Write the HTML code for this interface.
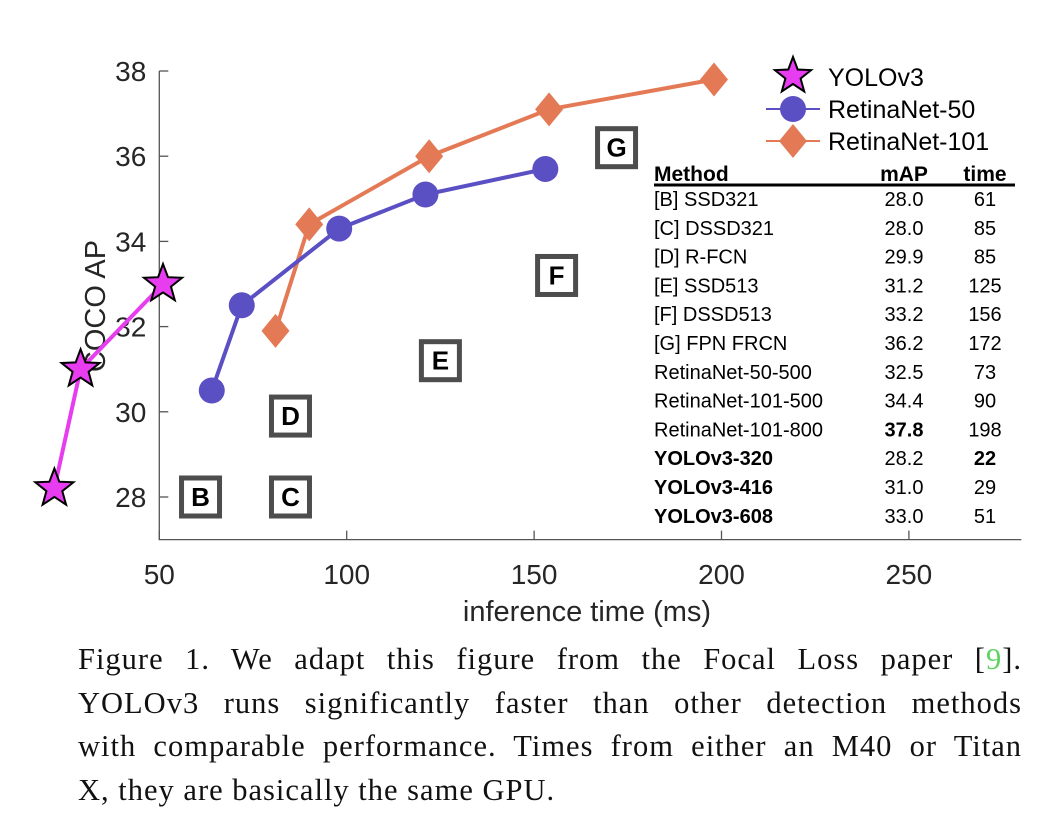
<!DOCTYPE html>
<html><head><meta charset="utf-8"><style>
body{margin:0;background:#fff;width:1046px;height:824px;overflow:hidden}
svg{position:absolute;left:0;top:0}
.cap{position:absolute;left:78px;top:638px;width:944px;font-family:"Liberation Serif",serif;font-size:30.5px;letter-spacing:1px;line-height:43.5px;color:#111}
.cap div{text-align:justify;text-align-last:justify;white-space:nowrap}
.cap div.last{text-align-last:left}
</style></head><body>
<svg id="chart" width="1046" height="640" font-family="Liberation Sans, sans-serif"></svg>
<div class="cap">
<div>Figure 1. We adapt this figure from the Focal Loss paper [<span style="color:#5fd35f">9</span>].</div>
<div>YOLOv3 runs significantly faster than other detection methods</div>
<div>with comparable performance. Times from either an M40 or Titan</div>
<div class="last">X, they are basically the same GPU.</div>
</div>
<script>
const xTicks=[50,100,150,200,250];
const yTicks=[28,30,32,34,36,38];
const yoloT=[22,29,51], yoloAP=[28.2,31.0,33.0];
const r50T=[64,72,98,121,153], r50AP=[30.5,32.5,34.3,35.1,35.7];
const r101T=[81,90,122,154,198], r101AP=[31.9,34.4,36.0,37.1,37.8];
const boxLabels=['B','C','D','E','F','G'];
const boxT=[61,85,85,125,156,172];
const boxAP=[28.0,28.0,29.9,31.2,33.2,36.2];
const tblMethods=['[B] SSD321','[C] DSSD321','[D] R-FCN','[E] SSD513','[F] DSSD513','[G] FPN FRCN','RetinaNet-50-500','RetinaNet-101-500','RetinaNet-101-800','YOLOv3-320','YOLOv3-416','YOLOv3-608'];
const tblMAP=['28.0','28.0','29.9','31.2','33.2','36.2','32.5','34.4','37.8','28.2','31.0','33.0'];
const tblTime=['61','85','85','125','156','172','73','90','198','22','29','51'];

const NS='http://www.w3.org/2000/svg';
const svg=document.getElementById('chart');
const X=t=>159.3+(t-50)*3.748;
const Y=v=>497-(v-28)*42.6;
function mk(tag,at,name,parent){const e=document.createElementNS(NS,tag);for(const k in at)e.setAttribute(k,at[k]);


(parent||svg).appendChild(e);return e;}
mk('path',{d:`M${X(50)} ${Y(38)} V${Y(27)} H${X(280)}`,stroke:'#555',fill:'none','stroke-width':1.3},'axes-lines');
yTicks.forEach(v=>{mk('line',{x1:X(50),x2:X(50)+9,y1:Y(v),y2:Y(v),stroke:'#555','stroke-width':1.3},'y-tick');
const t=mk('text',{x:X(50)-13,y:Y(v)+10,'text-anchor':'end','font-size':28,fill:'#262626'},'y-tick-label');t.textContent=v;});
xTicks.forEach(v=>{mk('line',{x1:X(v),x2:X(v),y1:Y(27),y2:Y(27)-9,stroke:'#555','stroke-width':1.3},'x-tick');
const t=mk('text',{x:X(v),y:584,'text-anchor':'middle','font-size':28,fill:'#262626'},'x-tick-label');t.textContent=v;});
let t=mk('text',{x:587,y:621,'text-anchor':'middle','font-size':29,fill:'#262626'},'x-axis-title');t.textContent='inference time (ms)';
t=mk('text',{x:0,y:0,'text-anchor':'middle','font-size':29,fill:'#262626',transform:'translate(105,306) rotate(-90)'},'y-axis-title');t.textContent='COCO AP';
boxLabels.forEach((l,i)=>{const cx=X(boxT[i]),cy=Y(boxAP[i]);
mk('rect',{x:cx-19,y:cy-19,width:38,height:38,fill:'#fff',stroke:'#4d4d4d','stroke-width':5},'method-box-'+l.toLowerCase());
const tt=mk('text',{x:cx,y:cy+9,'text-anchor':'middle','font-size':26,'font-weight':'bold',fill:'#000'},'method-box-label');tt.textContent=l;});
function star(cx,cy,r,name){let p=[];for(let k=0;k<10;k++){const a=-Math.PI/2+k*Math.PI/5,rr=k%2?r*0.42:r;p.push((cx+rr*Math.cos(a)).toFixed(1)+','+(cy+rr*Math.sin(a)).toFixed(1));}
mk('polygon',{points:p.join(' '),fill:'#e83cf0',stroke:'#000','stroke-width':2},name);}
function diamond(cx,cy,name){mk('polygon',{points:`${cx},${cy-17} ${cx+14},${cy} ${cx},${cy+17} ${cx-14},${cy}`,fill:'#e47a55'},name);}
function line(T,A,c,name){mk('polyline',{points:T.map((v,i)=>X(v)+','+Y(A[i])).join(' '),fill:'none',stroke:c,'stroke-width':4},name);}
line(r101T,r101AP,'#e47a55','retinanet101-line');
line(r50T,r50AP,'#5b4fc4','retinanet50-line');
line(yoloT,yoloAP,'#e83cf0','yolov3-line');
r50T.forEach((v,i)=>mk('circle',{cx:X(v),cy:Y(r50AP[i]),r:13,fill:'#5b4fc4'},'retinanet50-point'));
r101T.forEach((v,i)=>diamond(X(v),Y(r101AP[i]),'retinanet101-point'));
yoloT.forEach((v,i)=>star(X(v),Y(yoloAP[i]),20,'yolov3-point'));
star(793,76,19,'legend-yolov3-marker');
t=mk('text',{x:828,y:86,'font-size':25,fill:'#000'},'legend-yolov3');t.textContent='YOLOv3';
mk('line',{x1:766,x2:820,y1:109,y2:109,stroke:'#5b4fc4','stroke-width':2},'legend-r50-line');
mk('circle',{cx:793,cy:109,r:13,fill:'#5b4fc4'},'legend-r50-marker');
t=mk('text',{x:828,y:118,'font-size':25,fill:'#000'},'legend-retinanet50');t.textContent='RetinaNet-50';
mk('line',{x1:766,x2:820,y1:141,y2:141,stroke:'#e47a55','stroke-width':2},'legend-r101-line');
diamond(793,141,'legend-r101-marker');
t=mk('text',{x:828,y:150,'font-size':25,fill:'#000'},'legend-retinanet101');t.textContent='RetinaNet-101';
t=mk('text',{x:654,y:181,'font-size':21,'font-weight':'bold'},'table-header-method');t.textContent='Method';
t=mk('text',{x:904,y:181,'font-size':21,'font-weight':'bold','text-anchor':'middle'},'table-header-map');t.textContent='mAP';
t=mk('text',{x:985,y:181,'font-size':21,'font-weight':'bold','text-anchor':'middle'},'table-header-time');t.textContent='time';
mk('line',{x1:654,x2:1015,y1:185,y2:185,stroke:'#000','stroke-width':3},'table-header-rule');
tblMethods.forEach((m,i)=>{const y=206+i*28.8,b=i>=9;
let a=mk('text',{x:654,y:y,'font-size':20,'font-weight':b?'bold':'normal'},'table-method');a.textContent=m;
a=mk('text',{x:904,y:y,'font-size':20,'text-anchor':'middle','font-weight':i==8?'bold':'normal'},'table-map');a.textContent=tblMAP[i];
a=mk('text',{x:985,y:y,'font-size':20,'text-anchor':'middle','font-weight':i==9?'bold':'normal'},'table-time');a.textContent=tblTime[i];});
</script>
</body></html>
